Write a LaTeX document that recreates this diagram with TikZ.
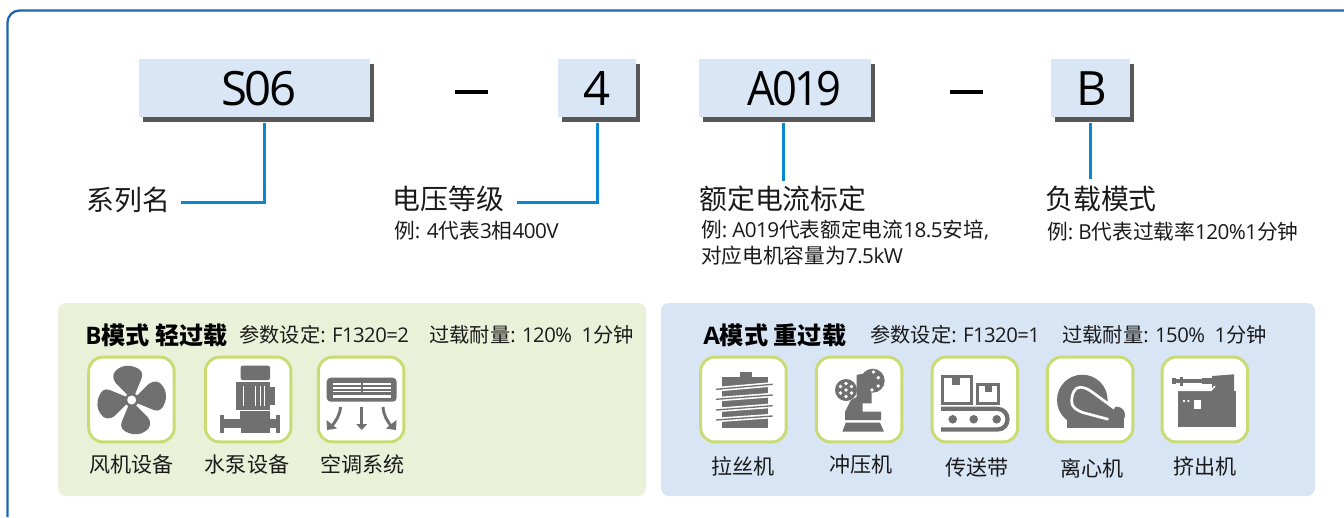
\documentclass[tikz,border=0pt]{standalone}
\usepackage{fontspec}
\setmainfont{Open Sans}[LetterSpace=-2.5]
\newfontfamily\cjk{Noto Sans CJK SC}
\newfontfamily\codefont{Open Sans}[LetterSpace=-5.5]
\newfontfamily\codenarrow{Open Sans}[LetterSpace=-5.5,FakeStretch=0.92]
\newcommand{\C}[1]{{\cjk #1}}
\definecolor{frameblue}{HTML}{1F64AE}
\definecolor{boxblue}{HTML}{D9E6F5}
\definecolor{shade}{HTML}{595757}
\definecolor{conn}{HTML}{0A87D0}
\definecolor{pgreen}{HTML}{E9F2D9}
\definecolor{pblue}{HTML}{D8E5F4}
\definecolor{iconline}{HTML}{C9DC74}
\definecolor{icongrey}{HTML}{707070}
\definecolor{ink}{HTML}{1A1A1A}
\tikzset{
  code/.style={fill=boxblue,inner sep=0pt,font=\codefont\fontsize{35.5}{36}\selectfont,text=black,minimum height=43.5pt},
  shadowbox/.style={fill=shade,inner sep=0pt,minimum height=43.5pt},
  connline/.style={draw=conn,line width=1.9pt},
  big/.style={anchor=base west,inner sep=0pt,font=\fontsize{20.9}{24}\selectfont,text=ink},
  small/.style={anchor=base west,inner sep=0pt,font=\fontsize{15.5}{19}\selectfont,text=ink,align=left},
  headtext/.style={anchor=base west,inner sep=0pt,font=\bfseries\fontsize{18.1}{20}\selectfont,text=black},
  param/.style={anchor=base west,inner sep=0pt,font=\fontsize{15.2}{18}\selectfont,text=ink},
  captext/.style={anchor=base,inner sep=0pt,font=\fontsize{15.8}{18}\selectfont,text=ink},
  tile/.style={draw=iconline,line width=2.2pt,fill=white,rounded corners=10.5pt},
  ig/.style={fill=icongrey,draw=none},
  iw/.style={fill=white,draw=none},
  dashbar/.style={fill=black,draw=none}
}
\begin{document}
\begin{tikzpicture}[x=0.75pt,y=-0.75pt]
\useasboundingbox (0,0) rectangle (1344,517);
\fill[white] (0,0) rectangle (1344,517);
% frame
\draw[frameblue,line width=1.7pt,rounded corners=9pt] (7.5,517) -- (7.5,10.5) -- (1344,10.5);
% code boxes
\node[shadowbox,minimum width=173.25pt,anchor=north west] (s1) at (143,64) {};
\node[shadowbox,minimum width=58.5pt,anchor=north west] (s2) at (562,64) {};
\node[shadowbox,minimum width=129pt,anchor=north west] (s3) at (703,64) {};
\node[shadowbox,minimum width=59.25pt,anchor=north west] (s4) at (1055,64) {};
\node[code,minimum width=173.25pt,anchor=north west] (c1) at (139,59) {\hspace*{6pt}S06};
\node[code,minimum width=58.5pt,anchor=north west] (c2) at (558,59) {4};
\node[code,minimum width=129pt,anchor=north west] (c3) at (699,59) {\hspace*{14pt}{\codenarrow\fontsize{35.5}{36}\selectfont A019}};
\node[code,minimum width=59.25pt,anchor=north west] (c4) at (1051,59) {\hspace*{1.5pt}B};
\fill[dashbar] (455,90) rectangle (488,94);
\fill[dashbar] (950,90) rectangle (983,94);
% labels
\node[big] (l1) at (86,210) {\C{系列名}};
\node[big] (l2) at (392.5,209) {\C{电压等级}};
\node[big] (l3) at (699,209) {\C{额定电流标定}};
\node[big] (l4) at (1045,209) {\C{负载模式}};
\node[small] (t2) at (394,238) {\C{例}: 4\C{代表}3\C{相}400V};
\node[small,anchor=north west] (t3) at (701,220) {\C{例}:\ A019\C{代表额定电流}18.5\C{安培}, \\ \C{对应电机容量为}7.5kW};
\node[small] (t4) at (1047,239) {\C{例}:\ B\C{代表过载率}120\%1\C{分钟}};
% connectors
\draw[connline] ([xshift=4.1pt]s1.south) |- ([xshift=8pt,yshift=-2.2pt]l1.east);
\draw[connline] ([xshift=-3pt]s2.south) |- ([xshift=9pt,yshift=-3pt]l2.east);
\draw[connline] ([xshift=-4.5pt]s3.south) -- ++(0,58);
\draw[connline] ([xshift=-3.4pt]s4.south) -- ++(0,56);
% panels
\fill[pgreen,rounded corners=6pt] (58,303) rectangle (646,496);
\fill[pblue,rounded corners=6pt] (661,303) rectangle (1315,496);
\node[headtext] (hb) at (85,344) {B\C{模式} \C{轻过载}};
\node[param] (pb1) at (239,342) {\C{参数设定}: F1320=2};
\node[param] (pb2) at (429,342) {\C{过载耐量}: 120\%\ \ 1\C{分钟}};
\node[headtext] (ha) at (703,344) {A\C{模式} \C{重过载}};
\node[param] (pa1) at (870,342) {\C{参数设定}: F1320=1};
\node[param] (pa2) at (1062,342) {\C{过载耐量}: 150\%\ \ 1\C{分钟}};
% tiles
\foreach \xa in {88.7,205.4,318.4,700.7,816.4,932.1,1047.4,1162.1}{
  \draw[tile] (\xa,357.1) rectangle ++(85.5,84.8);
}
% captions
\node[captext] (k1) at (131.5,472) {\C{风机设备}};
\node[captext] (k2) at (247,472) {\C{水泵设备}};
\node[captext] (k3) at (362.5,472) {\C{空调系统}};
\node[captext] (k4) at (743,474) {\C{拉丝机}};
\node[captext] (k5) at (861,472) {\C{冲压机}};
\node[captext] (k6) at (977,475) {\C{传送带}};
\node[captext] (k7) at (1092,476) {\C{离心机}};
\node[captext] (k8) at (1205,474) {\C{挤出机}};
% fan
\foreach \r in {0,90,180,270}{
  \begin{scope}[shift={(131.7,400)},rotate=\r]
    \fill[ig] (-4,-5) -- (-16,-17) .. controls (-20,-22) and (-19,-28) .. (-14,-31) .. controls (-9,-35) and (-2,-35) .. (3,-33) .. controls (9,-31) and (12,-27) .. (10,-22) -- (3,-5) -- cycle;
  \end{scope}
}
\fill[ig] (131.7,400) circle[radius=7];
\fill[iw] (131.7,400) circle[radius=4.5];
% pump
\fill[ig,rounded corners=1.5pt] (240.7,365.7) rectangle (270,380);
\fill[ig] (236,382) rectangle (270,410);
\fill[ig] (270,387) rectangle (275,405);
\fill[ig] (240,410) rectangle (270,420);
\fill[ig] (224,419) rectangle (276,428);
\fill[ig] (220,415) rectangle (224,432.7);
\fill[ig] (276,415) rectangle (280,432.7);
\fill[ig] (240.7,428) rectangle (270,432.7);
\fill[iw] (243,386) rectangle (244,406);
\fill[iw] (254.5,386) rectangle (255.7,406);
\fill[iw] (259.7,386) rectangle (260.8,406);
\fill[iw] (263.5,386) rectangle (264.7,406);
\fill[iw] (240,409.7) rectangle (270,410.7);
% air conditioner
\fill[ig,rounded corners=3pt] (326.7,377.7) rectangle (396.7,401.7);
\fill[iw] (332.7,383) rectangle (360.7,385);
\fill[iw] (332.7,387) rectangle (360.7,388.7);
\fill[iw] (332.7,390.5) rectangle (360.7,392.2);
\fill[iw] (363.2,383) rectangle (390.7,385);
\fill[iw] (363.2,387) rectangle (390.7,388.7);
\fill[iw] (363.2,390.5) rectangle (390.7,392.2);
\fill[iw] (332.7,395) rectangle (390.7,398);
\draw[icongrey,line width=2.2pt] (361.7,407) -- (361.7,427);
\fill[ig] (356.2,424) -- (367.2,424) -- (361.7,430) -- cycle;
\draw[icongrey,line width=2.2pt] (340.5,407) .. controls (340,415) and (336,421) .. (331,427);
\fill[ig] (326.5,420) -- (327,430) -- (337,428.5) -- cycle;
\draw[icongrey,line width=2.2pt] (383,407) .. controls (383.5,415) and (387,421) .. (392,427);
\fill[ig] (396.5,420) -- (396,430) -- (386,428.5) -- cycle;
% wire drawing
\fill[ig] (740,372.3) rectangle (751.7,377.3);
\fill[ig] (722.3,377.3) rectangle (767.7,428);
\foreach \ya/\yb in {389.3/384.3,399.3/395,410/405.7,420/416}{
  \draw[white,line width=3.4pt] (716,\ya) -- (772.7,\yb);
  \draw[icongrey,line width=1pt] (716,\ya) -- (772.7,\yb);
}
% press
\fill[ig] (846,390) circle[radius=11];
\fill[ig] (872.7,380.7) circle[radius=12];
\fill[ig] (856.7,375) -- (871.7,372) -- (871.7,403.3) -- (862.7,403.3) -- (862.7,411.7) -- (881,411.7) -- (881,420) -- (845,420) -- (845,411.7) -- (851,400) -- (856.7,397) -- cycle;
\fill[ig] (845.7,422.7) -- (880,422.7) -- (884,431.7) -- (842.3,431.7) -- cycle;
\foreach \px/\py in {846/390,846/383.5,851.5/386.5,851.5/393,846/396.5,840.5/393,840.5/386.5,878.3/377.7,878.3/386,873.5/372,872/390}{
  \fill[iw] (\px,\py) circle[radius=1.9];
}
% conveyor
\draw[icongrey,line width=2.5pt] (942.3,376.3) rectangle (971.4,403.7);
\fill[ig] (951.7,376) rectangle (960,385);
\draw[icongrey,line width=2.2pt] (977.8,384.4) rectangle (998.9,403.9);
\fill[ig] (985,384) rectangle (991.7,391.7);
\draw[icongrey,line width=3.2pt] (941,408.8) -- (997,408.8) .. controls (1011,408.8) and (1011,429.6) .. (997,429.6) -- (941,429.6);
\fill[ig] (952.7,419.3) circle[radius=4.3];
\fill[ig] (973.7,419.3) circle[radius=4.3];
\fill[ig] (996.7,419.3) circle[radius=4.3];
% centrifuge
\fill[ig] (1082.3,400) circle[radius=25.3];
\fill[ig] (1067,415) rectangle (1124,428);
\fill[ig] (1116.7,415) circle[radius=8.3];
\fill[ig] (1091.7,391.7) -- (1114.3,408.3) -- (1120,415) -- (1090,418) -- cycle;
\draw[white,line width=2pt] (1108.3,419.3) -- (1083.3,412.7) .. controls (1076,410) and (1071.7,407) .. (1071.7,401.7) .. controls (1071.7,393) and (1075,387.3) .. (1080,387.3) .. controls (1084,387.3) and (1088,389) .. (1091.7,391.7) -- (1114.3,408.3);
% extruder
\fill[ig] (1178.3,390.7) rectangle (1235.7,426.7);
\fill[ig] (1212,376) -- (1234,374.3) -- (1234,391) -- (1212,391) -- cycle;
\draw[white,line width=1pt] (1178,390.5) -- (1211,390.5) -- (1215,386);
\fill[ig] (1172.3,379.3) rectangle (1213.3,383.3);
\fill[ig] (1172.3,378.3) rectangle (1175.7,384.3);
\fill[ig] (1180,377.3) rectangle (1183.3,385.7);
\fill[ig] (1201.7,378.3) rectangle (1211.7,384.3);
\fill[iw] (1194,400) rectangle (1200.7,409.3);
\fill[iw] (1184,401) circle[radius=1.3];
\fill[iw] (1188.3,401) circle[radius=1.3];
\end{tikzpicture}
\end{document}
